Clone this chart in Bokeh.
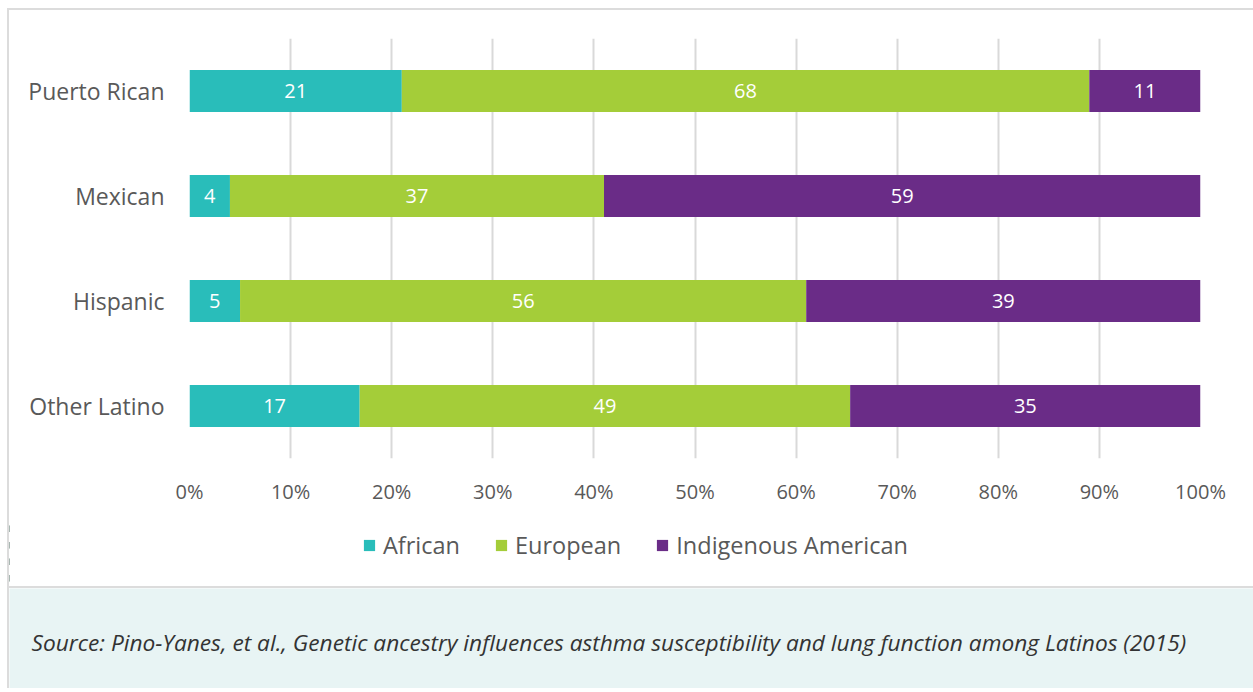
from bokeh.plotting import figure
from bokeh.models import (ColumnDataSource, Range1d, FactorRange, FixedTicker,
                          Legend, LegendItem, Label)
from bokeh.core.properties import value
from bokeh.embed import file_html
from bokeh.resources import INLINE

categories = ["Puerto Rican", "Mexican", "Hispanic", "Other Latino"]
series = ["African", "European", "Indigenous American"]
african = [21, 4, 5, 17]
european = [68, 37, 56, 49]
indigenous = [11, 59, 39, 35]
colors = ["#29bdba", "#a4cd39", "#6a2c87"]
tick_values = [0, 10, 20, 30, 40, 50, 60, 70, 80, 90, 100]
tick_labels = ["0%", "10%", "20%", "30%", "40%", "50%", "60%", "70%", "80%", "90%", "100%"]
source_text = ("Source: Pino-Yanes, et al., Genetic ancestry influences asthma "
               "susceptibility and lung function among Latinos (2015)")

FONT = "Open Sans"
GRAY = "#595959"
LINE = "#dcdcdc"
raw = {"African": african, "European": european, "Indigenous American": indigenous}
totals = [a + e + i for a, e, i in zip(african, european, indigenous)]
data = {"cat": categories}
for s in series:
    data[s] = [v / t * 100 for v, t in zip(raw[s], totals)]
src = ColumnDataSource(data)

W = 1244

# ---------------- main chart ----------------
p = figure(width=W, height=510, output_backend="svg", toolbar_location=None,
           y_range=FactorRange(*reversed(categories)), x_range=Range1d(0, 100),
           min_border_left=180, min_border_right=53, min_border_top=28,
           min_border_bottom=62)
p.styles = {"margin-left": "9px", "margin-top": "10px",
            "box-shadow": f"-2px 0 0 {LINE}, 0 -2px 0 {LINE}, -2px -2px 0 {LINE}"}
p.outline_line_color = None
p.background_fill_color = "white"
p.border_fill_color = "white"

renderers = p.hbar_stack(series, y="cat", height=0.4, color=colors, source=src,
                         line_color=None)

lab_x, lab_y, lab_t = [], [], []
for i, c in enumerate(categories):
    left = 0
    for s in series:
        w = data[s][i]
        lab_x.append(left + w / 2)
        lab_y.append(c)
        lab_t.append(str(raw[s][i]))
        left += w
p.text(x=lab_x, y=lab_y, text=lab_t, text_align="center", text_baseline="middle",
       text_color="white", text_font=value(FONT), text_font_size="20px")

p.xgrid.ticker = FixedTicker(ticks=tick_values)
p.xgrid.grid_line_color = "#d9d9d9"
p.xgrid.grid_line_width = 2
p.ygrid.grid_line_color = None

p.xaxis.ticker = FixedTicker(ticks=tick_values)
p.xaxis.major_label_overrides = {v: l for v, l in zip(tick_values, tick_labels)}
p.axis.axis_line_color = None
p.axis.major_tick_line_color = None
p.axis.minor_tick_line_color = None
p.axis.major_tick_out = 0
p.axis.major_tick_in = 0
p.xaxis.major_label_standoff = 19
p.xaxis.major_label_text_font = FONT
p.xaxis.major_label_text_font_size = "20px"
p.xaxis.major_label_text_color = GRAY

p.yaxis.major_label_standoff = 25
p.yaxis.major_label_text_font = FONT
p.yaxis.major_label_text_font_size = "23px"
p.yaxis.major_label_text_color = GRAY

# ---------------- legend strip ----------------
lg = figure(width=W, height=66, output_backend="svg", toolbar_location=None,
            y_range=FactorRange(*reversed(categories)), x_range=Range1d(1000, 1001),
            min_border=0)
lg.styles = {"margin-left": "9px", "box-shadow": f"-2px 0 0 {LINE}"}
lg.axis.visible = False
lg.grid.visible = False
lg.outline_line_color = None
lg.background_fill_color = "white"
lg.border_fill_color = "white"
leg_r = lg.hbar_stack(series, y="cat", height=0.4, color=colors, source=src,
                      line_color=None)
legend = Legend(items=[LegendItem(label=s, renderers=[r]) for s, r in zip(series, leg_r)],
                orientation="horizontal", location=(353, 25),
                label_text_font=FONT, label_text_font_size="23.5px",
                label_text_color=GRAY, glyph_width=14, glyph_height=14,
                label_standoff=7, spacing=34, border_line_color=None,
                background_fill_alpha=0, margin=0, padding=5)
lg.add_layout(legend, "center")

# ---------------- source footer ----------------
f = figure(width=W, height=102, output_backend="svg", toolbar_location=None,
           x_range=Range1d(0, 1), y_range=Range1d(0, 1), min_border=0)
f.styles = {"margin-left": "9px", "border-top": f"2px solid {LINE}",
            "box-shadow": f"-2px 0 0 {LINE}"}
f.axis.visible = False
f.grid.visible = False
f.outline_line_color = None
f.background_fill_color = "#e8f4f4"
f.border_fill_color = "#e8f4f4"
f.add_layout(Label(x=22, y=48, x_units="screen", y_units="screen", text=source_text,
                   text_font=FONT, text_font_style="italic", text_font_size="22.7px",
                   text_color="#333333", text_baseline="middle"))

open("out.html", "w").write(file_html([p, lg, f], INLINE))
